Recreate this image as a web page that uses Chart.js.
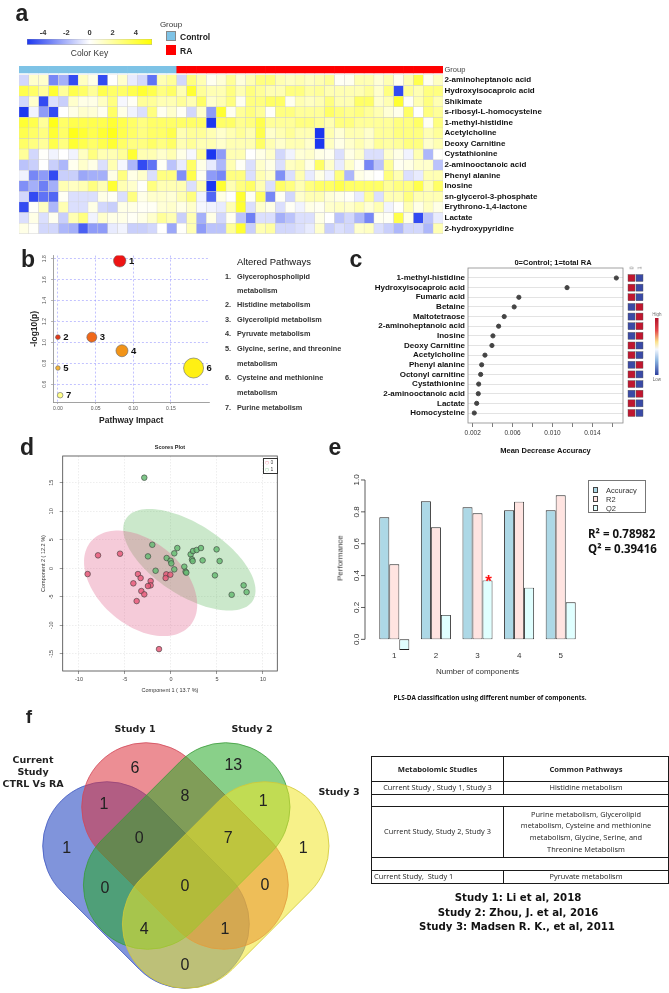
<!DOCTYPE html>
<html>
<head>
<meta charset="utf-8">
<title>Metabolomic profiling of RA</title>
<script src="https://cdn.jsdelivr.net/npm/chart.js@4.4.1/dist/chart.umd.min.js"></script>
<style>
  html, body { margin: 0; padding: 0; background: #fff; }
  #page { position: relative; width: 669px; height: 993px; overflow: hidden; background: #fff;
          font-family: 'Liberation Sans', Arial, sans-serif; color: #222; }
  #page canvas { position: absolute; }
  .t { position: absolute; white-space: nowrap; line-height: 1; will-change: transform; }
  .box { position: absolute; box-sizing: border-box; }
  table.cmp { position: absolute; left: 371px; top: 756px; width: 297px; border-collapse: collapse;
              table-layout: fixed; font-family: 'Open Sans', sans-serif; font-size: 7.4px; color: #222; }
  table.cmp td { border: 1px solid #1a1a1a; padding: 0 2px; text-align: center; line-height: 11.6px; }
  table.cmp th { border: 1px solid #1a1a1a; font-weight: bold; font-size: 7.6px; height: 22px; }
</style>
</head>
<body>
<div id="page"></div>
<script>
// ---------- a: heatmap ----------
const heatMetabolites = ['2-aminoheptanoic acid', 'Hydroxyisocaproic acid', 'Shikimate', 's-ribosyl-L-homocysteine',
  '1-methyl-histidine', 'Acetylcholine', 'Deoxy Carnitine', 'Cystathionine', '2-aminooctanoic acid',
  'Phenyl alanine', 'Inosine', 'sn-glycerol-3-phosphate', 'Erythrono-1,4-lactone', 'Lactate', '2-hydroxypyridine'];
const heatGroupSizes = [['Control', 16], ['RA', 27]];
const heatValues = [
  [-1, 1, 1, -3, -2, -4.5, 1.2, 0.5, -4.5, 0,  1, -0.5, -1, -3.5, 1.5, 2, -1, 2.5, 1.5, 0.3,  0.8, 2, 0.7, 1.5, 2.5, 2.5, 1.5, 1.2, 1.5, 1.2,  1.5, 2, 0.2, 0.3, 1.5, 1.5, 0.8, 1.5, 0.3, 1.5,  3.5, 0.3, 1.2],
  [3.5, 3, 2, 4, 2, 3.5, 3, 2, 3.5, 3,  3, 3.5, 4, 3.5, 2.5, 3, 1.5, 4, 2, 1.5,  1.5, 2.5, 1.5, 2.5, 2, 1.5, 1.5, 2.5, 2.5, 1.8,  2, 1.5, 1.5, 1.5, 1.5, 2, 1, 2.5, -4.5, 2,  1.5, 2.5, 2.5],
  [-1, 1, -4.5, -0.8, -1.2, 1, 0.5, 0.5, 1.2, 2.5,  -0.2, 0.2, 2, 2, 1.5, 1.5, 2, 1.5, 3, 1,  1.5, 2.5, 0.3, 2.5, 2.5, 3, 3, 0.3, 1.5, 1.2,  1.5, 2.5, 1.5, 1.5, 3, 3, 1, 1.5, 4, 0.2,  1.5, 2.5, 1.5],
  [-5, -0.3, -2.5, -4.5, 0, 0.5, 1, 0.8, 0.3, 3,  0.5, -0.3, -0.8, 2.5, 0.3, 1, 0.2, -1, 1, -2.5,  4, 0.3, 2, 2.5, 2, 0.1, 2.5, 2.5, 2, 2,  2, 3, 2.5, 2.2, 2.5, 2, 1.5, 0.8, 0.4, 3,  0, 2.5, 2],
  [4, 3.5, 2, 4.5, 3, 3.5, 3.5, 3.5, 3.5, 4,  3.5, 3, 2.5, 3, 3, 3, 3, 3, 3, -5,  3, 3, 2.2, 2.5, 3.5, 2, 2, 2, 2.5, 2.5,  2, 1.5, 2.5, 2.5, 2, 2, 2, 2, 2.5, 2.5,  3, 0.2, 2.5],
  [3.5, 3, 2.5, 4, 3, 4.5, 4, 3.5, 4, 4.5,  3.5, 3, 2.5, 3, 3, 3.5, 1.5, 2, 2, 1.5,  1, 1.5, 2, 1.5, 3.5, 1, 1.5, 2, 1.5, 1.5,  -5, 1.5, 0.8, 1.5, 1.5, 1, 2, 2, 2.5, 2.5,  2.5, 1.5, 2],
  [3, 2.5, 2, 3.5, 2.5, 4, 3.5, 3, 3.5, 4,  3, 2.5, 2.5, 3, 2.5, 3, 1.5, 2, 1.5, 1.5,  1, 1.5, 1.5, 1.5, 3, 1.5, 1, 1.5, 1.5, 1,  -5, 1.2, 0.5, 1, 1.5, 1, 2, 1.8, 2, 2.5,  2.5, 1, 1.5],
  [2, -1, 0.1, -0.3, 0, -0.3, 1.2, 2.5, 1.5, 1.5,  2, 4, 1.5, 1.5, 1, 1.5, 0.5, -0.2, 2, -5,  -2.5, 1.5, 1.5, 0, 0.5, 1, -1, -0.3, 0.8, 1,  0.5, 0.3, -0.8, 0.5, 1, -0.8, -0.8, 1, 0.5, -0.3,  1.5, -1.8, 0.1],
  [-1.5, -1.2, 0, -1.2, -1.8, 0.3, 1, 0.5, -0.8, 1.5,  -0.2, -1.8, -4.5, -3.5, 0.2, -1.5, -0.5, 3, 0.5, -0.5,  -1.8, 1.5, 0.2, -0.8, 1, 0.5, -0.8, 1.2, 1.5, 0.5,  3, 1, -0.5, 1, 0.2, -3, -1.5, 2, 0.3, 0.5,  1, 1, -1.5],
  [-0.3, -3, -2.5, -4.5, -1.2, -1.2, -2.2, -2, -2, 0.5,  2.5, 0.5, 1, -0.8, 2.5, 2.5, -2.8, 3.5, 0.3, -2.5,  -3, 2.5, 2.5, -0.8, 1.5, 1, -2.8, -0.8, 1.5, -0.5,  0.5, -0.3, 2.5, -1.8, 0.5, 0.2, 0, 2.5, 1.5, -0.8,  -0.5, 1.5, 1.5],
  [-2.8, -2, -3.2, -2, 1.5, 1.2, 1.5, 2.5, 1.5, 4,  1.5, 1, 0.1, 2.5, 1.5, 1.5, 1.5, -0.8, 1.5, -5,  4, 1.5, 2.5, 3, 1.5, -0.8, 3, 2.5, 1.5, 2.5,  3, 3, 3.5, 3, 3, 3, 3, 2, 2.5, 2.5,  3.5, 1.5, 3],
  [-1, -4.5, -3.5, -3.8, 0.2, -0.8, -0.8, -0.8, 0.5, 0.2,  -0.8, 2.5, 0.5, 1, 1, 0.8, 1.5, 2.5, -0.3, -3.8,  0.5, 0, 4, 0.2, 3, -3, 0.2, -1, 1, 1.5,  1.5, 0.8, 0.5, 0.2, -0.5, 2, -0.8, 1.5, 1.5, 2.5,  1.5, 1.5, 1.5],
  [-4.5, 0.1, 1.2, -1.8, 1.5, -0.8, -0.8, 0.5, -1, -1.2,  0.5, 0.5, 0.2, 0.2, 0.8, 1, 0.5, 1, -0.2, -0.3,  -0.5, 1.5, 4, -0.8, 1, 0.5, -0.8, 0.2, -0.3, 0.5,  0.3, 1, 1.2, 1, 1.5, 0.8, 1.5, -0.3, 0.1, 1.5,  0.5, 1.2, 0.5],
  [-0.8, 0.5, -0.8, 0.3, -1.2, 1.5, 2.5, -0.3, 1, 0.5,  0.5, 0.2, 0.5, 1, 2, 1.5, -1.2, 1.5, -2, 0.5,  -1, 0.3, -1.5, -3.2, -0.8, -0.8, -2, -1.5, -0.8, -0.8,  0.5, 0, -1.5, -1, -1.8, -3, 0.3, 0.2, 3.5, 0.5,  -4.5, -1.5, -0.5],
  [0.5, 0.1, -1, -1, -1.8, -2, -4, -2.5, -2.5, -0.5,  -0.3, -1.2, -1.2, -1, 0, -2.2, 0.1, 1.5, -2.5, -1.5,  -1.5, 2, 4, -1.2, 1.5, 1.8, -1, -1, -0.8, -0.5,  1, -1.2, -0.8, -1, 1, 1.2, -0.8, -1.2, -1.8, -1,  -1, -1.8, 1.5]
];
const colorKeyRange = [-5.4, 5.4];
const colorKeyTicks = [-4, -2, 0, 2, 4];

// ---------- b: pathway impact ----------
const pathwayImpact = [0.082, 0.0, 0.045, 0.085, 0.0, 0.18, 0.003];
const pathwayLogP = [1.78, 1.05, 1.05, 0.92, 0.755, 0.755, 0.495];
const pathwayXTicks = [0, 0.05, 0.10, 0.15];
const pathwayYTicks = [0.6, 0.8, 1.0, 1.2, 1.4, 1.6, 1.8];

// ---------- c: random forest importance ----------
const mdaFeatures = ['1-methyl-histidine', 'Hydroxyisocaproic acid', 'Fumaric acid', 'Betaine', 'Maltotetraose',
  '2-aminoheptanoic acid', 'Inosine', 'Deoxy Carnitine', 'Acetylcholine', 'Phenyl alanine', 'Octonyl carnitine',
  'Cystathionine', '2-aminooctanoic acid', 'Lactate', 'Homocysteine'];
const mdaValues = [0.0164, 0.01146, 0.00663, 0.00616, 0.00516, 0.0046, 0.00403, 0.00393, 0.00323, 0.0029,
  0.0028, 0.0026, 0.00256, 0.0024, 0.00216];
const mdaHigherIn = ['0', '0', '0', '1', '1', '1', '1', '0', '0', '1', '0', '0', '1', '0', '0'];
const mdaTicks = [0.002, 0.004, 0.006, 0.008, 0.010, 0.012, 0.014, 0.016];

// ---------- d: PLS-DA scores ----------
const ctrlX = [-9.06, -7.93, -5.54, -3.59, -3.30, -4.09, -2.21, -2.21, -2.5, -3.22, -2.9, -3.73, -0.51, -0.58, -0.07, -1.30];
const ctrlY = [-1.0, 2.28, 2.57, -1.0, -1.70, -2.63, -2.23, -2.98, -3.1, -3.98, -4.56, -5.74, -1.05, -1.7, -1.11, -14.16];
const raX = [-2.9, -2.03, -2.5, -1.67, -0.47, -0.04, 0.04, 0.36, 0.69, 0.36, 1.45, 1.59, 1.67, 2.14, 2.29, 2.36,
  2.4, 2.79, 3.26, 3.44, 4.96, 5.29, 4.78, 6.6, 7.9, 8.22];
const raY = [15.9, 4.14, 2.1, -0.42, 1.81, 1.34, 0.87, 2.63, 3.56, -0.18, 0.29, -0.59, -0.76, 2.45, 1.57, 1.28,
  3.04, 3.22, 3.56, 1.4, 3.33, 1.28, -1.23, -4.63, -2.98, -4.16];
const scoresXTicks = [-10, -5, 0, 5, 10];
const scoresYTicks = [-15, -10, -5, 0, 5, 10, 15];

// ---------- e: PLS-DA cross validation ----------
const components = ['1', '2', '3', '4', '5'];
const accuracy = [0.766, 0.866, 0.829, 0.81, 0.81];
const r2 = [0.471, 0.703, 0.791, 0.864, 0.904];
const q2 = [-0.067, 0.153, 0.37, 0.324, 0.232];
const perfTicks = [0, 0.2, 0.4, 0.6, 0.8, 1.0];
const bestComponent = 2; // index of component 3

// ---------- f: venn ----------
const vennRegions = ['C', 'S1', 'S2', 'S3', 'C&S1', 'S1&S2', 'S2&S3', 'C&S1&S2', 'S1&S2&S3',
  'C&S2', 'C&S1&S2&S3', 'S1&S3', 'C&S2&S3', 'C&S1&S3', 'C&S3'];
const vennCounts = [1, 6, 13, 1, 1, 8, 1, 0, 7, 0, 0, 0, 4, 1, 0];

// ================= layout / style =================
Chart.defaults.font.family = "'Liberation Sans', Arial, sans-serif";
Chart.defaults.color = '#222';
Chart.defaults.animation = false;
Chart.defaults.responsive = false;
Chart.defaults.maintainAspectRatio = false;
Chart.defaults.events = [];
Chart.defaults.plugins.legend.display = false;
Chart.defaults.plugins.tooltip.enabled = false;

const page = document.getElementById('page');

function canvasAt(x, y, w, h) {
  const c = document.createElement('canvas');
  c.width = w; c.height = h;
  c.style.left = x + 'px'; c.style.top = y + 'px';
  c.style.width = w + 'px'; c.style.height = h + 'px';
  page.appendChild(c);
  return c;
}

function txt(s, x, y, font, o = {}) {
  const d = document.createElement('div');
  d.className = 't';
  d.textContent = s;
  const ax = o.align === 'left' ? '0' : o.align === 'right' ? '-100%' : '-50%';
  d.style.left = x + 'px';
  d.style.top = y + 'px';
  d.style.font = font;
  d.style.color = o.color || '#222';
  d.style.transform = `translate(${ax},-50%)` + (o.rot ? ` rotate(${o.rot}deg)` : '');
  page.appendChild(d);
  return d;
}

function boxAt(x, y, w, h, css) {
  const d = document.createElement('div');
  d.className = 'box';
  d.style.cssText = `left:${x}px;top:${y}px;width:${w}px;height:${h}px;` + css;
  page.appendChild(d);
  return d;
}

function heatColor(v) {
  const t = Math.max(-1, Math.min(1, v / 5));
  if (t < 0) {
    const k = -t;
    return `rgb(${Math.round(255 - k * 227)},${Math.round(255 - k * 200)},${Math.round(255 - k * 15)})`;
  }
  return `rgb(255,255,${Math.round(255 - t * 255)})`;
}

const ticksFrom = arr => s => { s.ticks = arr.map(v => ({ value: v })); };

// ---------- a ----------
txt('a', 21.7, 13, 'bold 23px "Liberation Sans", Arial');

new Chart(canvasAt(0, 20, 180, 45), {
  type: 'bar',
  data: {
    labels: ['key'],
    datasets: [{
      data: [colorKeyRange],
      backgroundColor: c => {
        const a = c.chart.chartArea;
        if (!a) return '#fff';
        const g = c.chart.ctx.createLinearGradient(a.left, 0, a.right, 0);
        g.addColorStop(0, heatColor(colorKeyRange[0]));
        g.addColorStop(0.5, heatColor(0));
        g.addColorStop(1, heatColor(colorKeyRange[1]));
        return g;
      },
      borderColor: '#9a9a9a', borderWidth: 0.6, borderSkipped: false,
      barPercentage: 1, categoryPercentage: 1
    }]
  },
  options: {
    indexAxis: 'y',
    layout: { padding: { left: 27, right: 28, bottom: 4 } },
    plugins: {
      title: { display: true, position: 'bottom', text: 'Color Key', color: '#333',
               font: { size: 8.5, weight: 'normal' }, padding: { top: 4, bottom: 2 } }
    },
    scales: {
      x: {
        position: 'top', min: colorKeyRange[0], max: colorKeyRange[1],
        afterBuildTicks: ticksFrom(colorKeyTicks), afterFit: s => { s.height = 19; },
        grid: { display: false, drawTicks: false }, border: { display: false },
        ticks: { padding: 2, font: { size: 7.5, weight: 'bold' }, color: '#333' }
      },
      y: { display: false }
    }
  }
});

txt('Group', 171, 24, '8px "Liberation Sans", Arial', { color: '#333' });
boxAt(166, 30.5, 10, 10, 'background:#7ec3e6;border:0.6px solid #888;');
boxAt(166, 45, 10, 10, 'background:#ff0000;');
txt('Control', 180, 36.5, 'bold 8.5px "Liberation Sans", Arial', { align: 'left' });
txt('RA', 180, 50.5, 'bold 8.5px "Liberation Sans", Arial', { align: 'left' });

const sampleGroup = heatGroupSizes.flatMap(([g, n]) => Array.from({ length: n }, () => g));
const groupColors = { Control: '#7ec3e6', RA: '#ff0000' };
const nRows = heatMetabolites.length;
const groupBand = [15.19, 15.84];

const heatDatasets = heatValues.map((row, r) => ({
  label: heatMetabolites[r],
  data: row.map(() => [nRows - 1 - r, nRows - r]),
  backgroundColor: row.map(heatColor),
  borderColor: '#d0d0d0', borderWidth: 0.5, borderSkipped: false
}));
heatDatasets.push({
  label: 'Group',
  data: sampleGroup.map(() => groupBand),
  backgroundColor: sampleGroup.map(g => groupColors[g]),
  borderWidth: 0
});

new Chart(canvasAt(0, 60, 669, 180), {
  type: 'bar',
  data: { labels: sampleGroup.map((g, i) => g + ' ' + (i + 1)), datasets: heatDatasets },
  options: {
    datasets: { bar: { grouped: false, barPercentage: 1, categoryPercentage: 1 } },
    layout: { padding: { left: 19, top: 5, bottom: 5, right: 0 } },
    scales: {
      x: { display: false },
      y: {
        position: 'right', min: 0, max: groupBand[1],
        afterBuildTicks: s => {
          s.ticks = heatMetabolites.map((m, r) => ({ value: r + 0.5 }))
            .concat([{ value: (groupBand[0] + groupBand[1]) / 2 }]);
        },
        afterFit: s => { s.width = 226; },
        grid: { display: false, drawTicks: false }, border: { display: false },
        ticks: {
          autoSkip: false, padding: 1.5,
          color: c => (c.tick && c.tick.value > nRows) ? '#444' : '#111',
          font: c => (c.tick && c.tick.value > nRows) ? { size: 7.5, weight: 'normal' } : { size: 8, weight: 'bold' },
          callback: v => v > nRows ? 'Group' : heatMetabolites[Math.round(nRows - 0.5 - v)]
        }
      }
    }
  }
});

// ---------- b ----------
const bubbleRadius = [6.2, 2.4, 5, 6, 2.3, 10, 2.8];
const bubbleColors = ['#ee1414', '#e2381a', '#f0681a', '#f29418', '#f4b43a', '#fff014', '#ffff8a'];

const bubbleNumbers = {
  id: 'bubbleNumbers',
  afterDatasetsDraw(chart) {
    const { ctx } = chart;
    ctx.save();
    ctx.font = 'bold 9.5px "Liberation Sans", Arial';
    ctx.fillStyle = '#111'; ctx.textAlign = 'left'; ctx.textBaseline = 'middle';
    chart.getDatasetMeta(0).data.forEach((pt, i) => {
      ctx.fillText(String(i + 1), pt.x + pt.options.radius + 3, pt.y + 0.5);
    });
    ctx.restore();
  }
};

txt('b', 28.3, 259, 'bold 23px "Liberation Sans", Arial');
const bubbleGrid = { color: '#9a9aff', lineWidth: 0.6, tickLength: 2, tickColor: '#888' };
const bubbleBorder = { color: '#8a8a8a', width: 0.8, dash: [2, 2] };
new Chart(canvasAt(0, 245, 220, 190), {
  type: 'bubble',
  data: {
    datasets: [{
      data: pathwayImpact.map((x, i) => ({ x, y: pathwayLogP[i], r: bubbleRadius[i] })),
      backgroundColor: bubbleColors, borderColor: '#666', borderWidth: 0.6
    }]
  },
  options: {
    layout: { padding: { top: 8, right: 8 } },
    scales: {
      x: {
        min: -0.0065, max: 0.201,
        afterBuildTicks: ticksFrom(pathwayXTicks), afterFit: s => { s.height = 33; },
        grid: bubbleGrid, border: bubbleBorder,
        ticks: { padding: 1.5, font: { size: 5 }, color: '#555', callback: v => v.toFixed(2) },
        title: { display: true, text: 'Pathway Impact', font: { size: 8.5, weight: 'bold' }, color: '#222',
                 padding: { top: 0, bottom: 9 } }
      },
      y: {
        min: 0.43, max: 1.83,
        afterBuildTicks: ticksFrom(pathwayYTicks), afterFit: s => { s.width = 53; },
        grid: bubbleGrid, border: bubbleBorder,
        ticks: { padding: 3, minRotation: 90, maxRotation: 90, crossAlign: 'center', font: { size: 5 },
                 color: '#555', callback: v => v.toFixed(1) },
        title: { display: true, text: '-log10(p)', font: { size: 8.5, weight: 'bold' }, color: '#222',
                 padding: { top: 30, bottom: 0 } }
      }
    }
  },
  plugins: [bubbleNumbers]
});

txt('Altered Pathways', 237, 261, '9.5px "Liberation Sans", Arial', { align: 'left', color: '#111' });
const pathwayLines = [
  ['1.', 'Glycerophospholipid', 276], ['', 'metabolism', 290], ['2.', 'Histidine metabolism', 304],
  ['3.', 'Glycerolipid metabolism', 319], ['4.', 'Pyruvate metabolism', 333],
  ['5.', 'Glycine, serine, and threonine', 348], ['', 'metabolism', 363],
  ['6.', 'Cysteine and methionine', 377], ['', 'metabolism', 392], ['7.', 'Purine metabolism', 407]
];
pathwayLines.forEach(([n, s, y]) => {
  if (n) txt(n, 225, y, 'bold 7.3px "Liberation Sans", Arial', { align: 'left', color: '#333' });
  txt(s, 237, y, 'bold 7.3px "Liberation Sans", Arial', { align: 'left', color: '#333' });
});

// ---------- c ----------
const mdaExtras = {
  id: 'mdaExtras',
  afterDraw(chart) {
    const { ctx, chartArea: a, scales: { y } } = chart;
    ctx.save();
    ctx.strokeStyle = '#8a8a8a'; ctx.lineWidth = 0.8;
    ctx.strokeRect(a.left, a.top, a.right - a.left, a.bottom - a.top);
    mdaHigherIn.forEach((g, i) => {
      const py = y.getPixelForValue(i);
      ['0', '1'].forEach((col, j) => {
        const x0 = a.right + 5 + j * 8;
        ctx.fillStyle = g === col ? '#c0162f' : '#3a4aa6';
        ctx.fillRect(x0, py - 3.5, 7, 7);
        ctx.strokeStyle = '#555'; ctx.lineWidth = 0.4;
        ctx.strokeRect(x0, py - 3.5, 7, 7);
      });
    });
    const bx = a.right + 32, top = 63, bot = 120;
    const g = ctx.createLinearGradient(0, top, 0, bot);
    g.addColorStop(0, '#b0102a'); g.addColorStop(0.22, '#e4484a'); g.addColorStop(0.42, '#fbe38c');
    g.addColorStop(0.55, '#f4f8ff'); g.addColorStop(0.75, '#8ab4e0'); g.addColorStop(1, '#2c3e9e');
    ctx.fillStyle = g;
    ctx.fillRect(bx, top, 3.5, bot - top);
    ctx.restore();
  }
};

txt('c', 356, 258.7, 'bold 23px "Liberation Sans", Arial');
txt('0=Control; 1=total RA', 553, 262, 'bold 7.5px "Liberation Sans", Arial', { color: '#111' });
txt('0', 632, 268, '4.5px "Liberation Sans", Arial', { color: '#666', rot: -90 });
txt('1', 639.5, 268, '4.5px "Liberation Sans", Arial', { color: '#666', rot: -90 });
txt('High', 657, 314, '4.5px "Liberation Sans", Arial', { color: '#666' });
txt('Low', 657, 379, '4.5px "Liberation Sans", Arial', { color: '#666' });

new Chart(canvasAt(340, 255, 329, 205), {
  type: 'scatter',
  data: {
    datasets: [{
      data: mdaValues.map((x, i) => ({ x, y: i })),
      backgroundColor: '#444', borderColor: '#444', pointRadius: 2.1
    }]
  },
  options: {
    layout: { padding: { top: 13, right: 46 } },
    scales: {
      x: {
        min: 0.00153, max: 0.01707,
        afterBuildTicks: ticksFrom(mdaTicks), afterFit: s => { s.height = 37; },
        grid: { drawOnChartArea: false, tickLength: 4, color: '#444', lineWidth: 0.7 },
        border: { display: false },
        ticks: { padding: 2, autoSkip: false, maxRotation: 0, font: { size: 6.5 }, color: '#333',
                 callback: (v, i) => i % 2 === 0 ? v.toFixed(3) : '' },
        title: { display: true, text: 'Mean Decrease Accuracy', font: { size: 7.5, weight: 'bold' }, color: '#111',
                 padding: { top: 0, bottom: 4.5 } }
      },
      y: {
        reverse: true, min: -1.037, max: 15.037,
        afterBuildTicks: ticksFrom(mdaFeatures.map((f, i) => i)), afterFit: s => { s.width = 128; },
        grid: { color: '#dcdcdc', lineWidth: 0.8, drawTicks: false }, border: { display: false },
        ticks: { padding: 3, autoSkip: false, font: { size: 8, weight: 'bold' }, color: '#111',
                 callback: v => mdaFeatures[v] }
      }
    }
  },
  plugins: [mdaExtras]
});

// ---------- d ----------
const scoreEllipseShapes = [
  { center: [2.0, 1.5], major: [6.88, -7.21], minor: [-2.10, -5.23], fill: 'rgba(98,184,98,0.33)' },
  { center: [-3.3, -2.63], major: [5.41, -7.33], minor: [-2.93, -5.65], fill: 'rgba(226,98,141,0.33)' }
];
const scoreEllipses = {
  id: 'scoreEllipses',
  beforeDatasetsDraw(chart) {
    const { ctx, scales: { x, y } } = chart;
    ctx.save();
    scoreEllipseShapes.forEach(e => {
      ctx.beginPath();
      for (let k = 0; k <= 120; k++) {
        const t = k / 120 * Math.PI * 2;
        const dx = e.center[0] + Math.cos(t) * e.major[0] + Math.sin(t) * e.minor[0];
        const dy = e.center[1] + Math.cos(t) * e.major[1] + Math.sin(t) * e.minor[1];
        const px = x.getPixelForValue(dx), py = y.getPixelForValue(dy);
        if (k) ctx.lineTo(px, py); else ctx.moveTo(px, py);
      }
      ctx.closePath();
      ctx.fillStyle = e.fill;
      ctx.fill();
    });
    ctx.restore();
  },
  afterDraw(chart) {
    const { ctx, chartArea: a } = chart;
    ctx.save();
    ctx.strokeStyle = '#444'; ctx.lineWidth = 0.8;
    ctx.strokeRect(a.left, a.top, a.right - a.left, a.bottom - a.top);
    ctx.restore();
  }
};

txt('d', 26.7, 447.3, 'bold 23px "Liberation Sans", Arial');
txt('Scores Plot', 170, 447, 'bold 5.5px "Liberation Sans", Arial', { color: '#222' });
const scoreGrid = { color: '#e2e2e2', lineWidth: 0.6, tickLength: 3, tickColor: '#555' };
const scoreBorder = { display: false, dash: [1.5, 1.5] };
new Chart(canvasAt(20, 440, 280, 260), {
  type: 'scatter',
  data: {
    datasets: [
      { label: '0', data: ctrlX.map((x, i) => ({ x, y: ctrlY[i] })),
        backgroundColor: 'rgba(232,92,122,0.85)', borderColor: '#3a3a3a', borderWidth: 0.6, pointRadius: 2.8 },
      { label: '1', data: raX.map((x, i) => ({ x, y: raY[i] })),
        backgroundColor: 'rgba(104,188,116,0.85)', borderColor: '#3a3a3a', borderWidth: 0.6, pointRadius: 2.8 }
    ]
  },
  options: {
    layout: { padding: { top: 16, right: 22.7 } },
    scales: {
      x: {
        min: -11.77, max: 11.56,
        afterBuildTicks: ticksFrom(scoresXTicks), afterFit: s => { s.height = 29; },
        grid: scoreGrid, border: scoreBorder,
        ticks: { padding: 2, font: { size: 5.5 }, color: '#444' },
        title: { display: true, text: 'Component 1 ( 13.7 %)', font: { size: 5.5 }, color: '#333',
                 padding: { top: 0, bottom: 6.7 } }
      },
      y: {
        min: -18.0, max: 19.7,
        afterBuildTicks: ticksFrom(scoresYTicks), afterFit: s => { s.width = 42.7; },
        grid: scoreGrid, border: scoreBorder,
        ticks: { padding: 4, minRotation: 90, maxRotation: 90, crossAlign: 'center', font: { size: 5.5 }, color: '#444' },
        title: { display: true, text: 'Component 2 ( 12.2 %)', font: { size: 5.5 }, color: '#333',
                 padding: { top: 19.7, bottom: 0 } }
      }
    }
  },
  plugins: [scoreEllipses]
});
boxAt(263, 458, 14.5, 15.5, 'border:0.7px solid #333;background:#fff;');
txt('○', 266.5, 462, '4.5px "DejaVu Sans"', { color: '#e8637f' });
txt('0', 272, 462, '5px "Liberation Sans", Arial', { color: '#444' });
txt('○', 266.5, 468.5, '4.5px "DejaVu Sans"', { color: '#5fb86f' });
txt('1', 272, 468.5, '5px "Liberation Sans", Arial', { color: '#444' });

// ---------- e ----------
const perfAxis = {
  id: 'perfAxis',
  afterDraw(chart) {
    const { ctx, chartArea: a, scales: { y } } = chart;
    const x0 = a.left - 8.5;
    ctx.save();
    ctx.strokeStyle = '#333'; ctx.lineWidth = 0.8;
    ctx.beginPath(); ctx.moveTo(x0, y.getPixelForValue(0)); ctx.lineTo(x0, y.getPixelForValue(1)); ctx.stroke();
    ctx.fillStyle = '#333'; ctx.font = '8px "Liberation Sans", Arial';
    ctx.textAlign = 'center'; ctx.textBaseline = 'middle';
    perfTicks.forEach(v => {
      const py = y.getPixelForValue(v);
      ctx.beginPath(); ctx.moveTo(x0, py); ctx.lineTo(x0 - 4, py); ctx.stroke();
      ctx.save(); ctx.translate(x0 - 8, py); ctx.rotate(-Math.PI / 2); ctx.fillText(v.toFixed(1), 0, 0); ctx.restore();
    });
    const bar = chart.getDatasetMeta(2).data[bestComponent];
    ctx.fillStyle = '#ff1010'; ctx.font = 'bold 17px "Liberation Sans", Arial';
    ctx.textBaseline = 'top';
    ctx.fillText('*', bar.x + 1, bar.y - 7);
    ctx.restore();
  }
};

txt('e', 334.7, 447.3, 'bold 23px "Liberation Sans", Arial');
txt('Performance', 340, 558, '8px "Liberation Sans", Arial', { color: '#333', rot: -90 });
new Chart(canvasAt(320, 465, 349, 215), {
  type: 'bar',
  data: {
    labels: components,
    datasets: [
      { label: 'Accuracy', data: accuracy, backgroundColor: '#add8e6' },
      { label: 'R2', data: r2, backgroundColor: '#ffe4e1' },
      { label: 'Q2', data: q2, backgroundColor: '#e0ffff' }
    ]
  },
  options: {
    datasets: { bar: { borderColor: '#222', borderWidth: 0.9, borderSkipped: false, categoryPercentage: 0.721, barPercentage: 1 } },
    layout: { padding: { left: 53.5, right: 87.5, top: 8.6 } },
    scales: {
      x: {
        afterFit: s => { s.height = 29.5; },
        grid: { display: false, drawTicks: false }, border: { display: false },
        ticks: { padding: 0, font: { size: 8 }, color: '#333' },
        title: { display: true, text: 'Number of components', font: { size: 8 }, color: '#333',
                 padding: { top: 0, bottom: 3.2 } }
      },
      y: { display: false, min: -0.07, max: 1.04 }
    }
  },
  plugins: [perfAxis]
});
boxAt(588, 480, 58, 33, 'border:0.8px solid #777;');
[['#add8e6', 'Accuracy', 490], ['#ffe4e1', 'R2', 499], ['#e0ffff', 'Q2', 508]].forEach(([c, s, y]) => {
  boxAt(593, y - 2.6, 5.2, 5.2, `background:${c};border:0.6px solid #444;`);
  txt(s, 606, y, '7.5px "Liberation Sans", Arial', { align: 'left', color: '#333' });
});
txt('R² = 0.78982', 588, 533, 'bold 11.5px "Open Sans", sans-serif', { align: 'left', color: '#111' });
txt('Q² = 0.39416', 588, 548, 'bold 11.5px "Open Sans", sans-serif', { align: 'left', color: '#111' });
txt('PLS-DA classification using different number of components.', 490, 697,
    'bold 6.4px "Open Sans", sans-serif', { color: '#111' });

// ---------- f ----------
const vennShapes = [
  { p1: [107, 146], p2: [185, 224], fill: 'rgba(60,90,200,0.65)', stroke: '#4058c0' },
  { p1: [146, 107], p2: [224, 185], fill: 'rgba(220,50,60,0.55)', stroke: '#d04858' },
  { p1: [225.7, 107], p2: [147.7, 185], fill: 'rgba(40,170,40,0.55)', stroke: '#3a9a3a' },
  { p1: [264.7, 146], p2: [186.7, 224], fill: 'rgba(240,230,40,0.55)', stroke: '#cfc838' }
];
const vennRadius = 64.3;
const vennAnchors = {
  'C': [66.7, 148.3], 'S1': [135, 68.3], 'S2': [233.3, 65.7], 'S3': [303.3, 148.3],
  'C&S1': [104, 104.3], 'S1&S2': [185, 96.7], 'S2&S3': [263.3, 101.7], 'C&S1&S2': [139.3, 138.3],
  'S1&S2&S3': [228.3, 138.3], 'C&S2': [105, 188.3], 'C&S1&S2&S3': [185, 186.7], 'S1&S3': [265, 186],
  'C&S2&S3': [144.3, 230], 'C&S1&S3': [225, 230], 'C&S3': [185, 265.7]
};
const vennPlugin = {
  id: 'vennPlugin',
  beforeDatasetsDraw(chart) {
    const { ctx, scales: { x, y } } = chart;
    const rp = x.getPixelForValue(vennRadius) - x.getPixelForValue(0);
    ctx.save();
    vennShapes.forEach(s => {
      const ax = x.getPixelForValue(s.p1[0]), ay = y.getPixelForValue(s.p1[1]);
      const bx = x.getPixelForValue(s.p2[0]), by = y.getPixelForValue(s.p2[1]);
      const ang = Math.atan2(by - ay, bx - ax);
      ctx.beginPath();
      ctx.arc(bx, by, rp, ang - Math.PI / 2, ang + Math.PI / 2);
      ctx.arc(ax, ay, rp, ang + Math.PI / 2, ang + Math.PI * 1.5);
      ctx.closePath();
      ctx.fillStyle = s.fill; ctx.fill();
      ctx.strokeStyle = s.stroke; ctx.lineWidth = 0.8; ctx.stroke();
    });
    ctx.fillStyle = '#222';
    ctx.font = '16px "Liberation Sans", Arial';
    ctx.textAlign = 'center'; ctx.textBaseline = 'middle';
    vennRegions.forEach((r, i) => {
      const [vx, vy] = vennAnchors[r];
      ctx.fillText(String(vennCounts[i]), x.getPixelForValue(vx), y.getPixelForValue(vy));
    });
    ctx.restore();
  }
};

txt('f', 29.3, 717, 'bold 19px "Liberation Sans", Arial');
new Chart(canvasAt(0, 700, 400, 293), {
  type: 'scatter',
  data: { datasets: [{ data: [] }] },
  options: {
    scales: {
      x: { display: false, min: 0, max: 400 },
      y: { display: false, min: 0, max: 293, reverse: true }
    }
  },
  plugins: [vennPlugin]
});
const vennFont = 'bold 9.5px "DejaVu Sans", sans-serif';
txt('Study 1', 135, 728, vennFont);
txt('Study 2', 252, 728, vennFont);
txt('Current', 33, 759, vennFont);
txt('Study', 33, 771, vennFont);
txt('CTRL Vs RA', 33, 783, vennFont);
txt('Study 3', 339, 791, vennFont);

const table = document.createElement('table');
table.className = 'cmp';
table.innerHTML = `
  <colgroup><col style="width:132px"><col style="width:165px"></colgroup>
  <tr><th>Metabolomic Studies</th><th>Common Pathways</th></tr>
  <tr><td style="height:12px">Current Study , Study 1, Study 3</td><td>Histidine metabolism</td></tr>
  <tr><td colspan="2" style="height:11px"></td></tr>
  <tr><td style="height:50px">Current Study, Study 2, Study 3</td>
      <td>Purine metabolism, Glycerolipid<br>metabolism, Cysteine and methionine<br>metabolism, Glycine, Serine, and<br>Threonine Metabolism</td></tr>
  <tr><td colspan="2" style="height:12px"></td></tr>
  <tr><td style="height:12px;text-align:left">Current Study,&nbsp; Study 1</td><td>Pyruvate metabolism</td></tr>`;
page.appendChild(table);

const capFont = 'bold 10.2px "DejaVu Sans", sans-serif';
txt('Study 1: Li et al, 2018', 518, 897, capFont, { color: '#111' });
txt('Study 2: Zhou, J. et al, 2016', 517.5, 912, capFont, { color: '#111' });
txt('Study 3: Madsen R. K., et al, 2011', 516.5, 926, capFont, { color: '#111' });
</script>
</body>
</html>
